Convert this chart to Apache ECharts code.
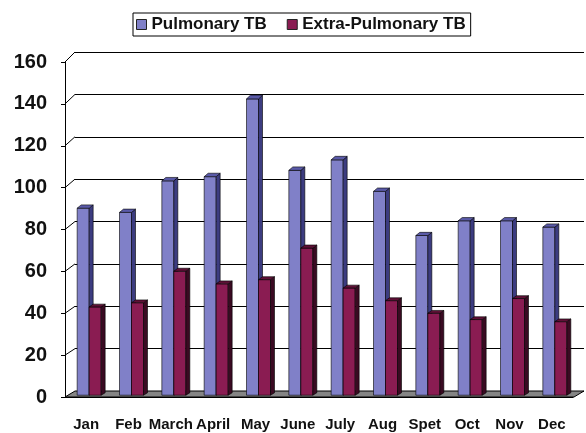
<!DOCTYPE html>
<html>
<head>
<meta charset="utf-8">
<script src="https://cdn.jsdelivr.net/npm/echarts@6/dist/echarts.min.js"></script>
<style>
  html, body { margin: 0; padding: 0; background: #fff; }
</style>
</head>
<body>
<div id="tbChart" style="width: 586px;height: 433px"></div>
<script>
  // chart data
  var months = ['Jan', 'Feb', 'March', 'April', 'May', 'June', 'July', 'Aug', 'Spet', 'Oct', 'Nov', 'Dec'];
  var pulmonary = [89, 87, 102, 104, 141, 107, 112, 97, 76, 83, 83, 80];
  var extraPulmonary = [42, 44, 59, 53, 55, 70, 51, 45, 39, 36, 46, 35];
  var yTicks = [0, 20, 40, 60, 80, 100, 120, 140, 160];

  var Y_MAX = 160;
  // depth offsets between front axis plane and back wall (pixels)
  var DX = 10, DY0 = 6, DY1 = 10;
  var BAR_W = 12;
  var FONT = 'Liberation Sans, Arial, sans-serif';

  function depthDy(v) {
    return DY0 + (DY1 - DY0) * v / Y_MAX;
  }

  // 3d-looking column drawn on the front grid, between depth 0.3 and 0.7
  function bar3d(shift, front, side, top) {
    return function (params, api) {
      let i = api.value(0), v = api.value(1);
      let base = api.coord([i, 0]);
      let peak = api.coord([i, v]);
      let x0 = base[0] + shift, x1 = x0 + BAR_W;
      let dt = depthDy(v), db = DY0;
      let p = function (x, y, t, dy) { return [x + DX * t, y - dy * t]; };
      let a = 0.3, b = 0.7;
      let line = {stroke: '#000', lineWidth: 0.6};
      return {
        type: 'group',
        children: [
          {type: 'polygon', shape: {points: [p(x0, peak[1], a, dt), p(x1, peak[1], a, dt), p(x1, base[1], a, db), p(x0, base[1], a, db)]},
            style: Object.assign({fill: front}, line)},
          {type: 'polygon', shape: {points: [p(x1, peak[1], a, dt), p(x1, peak[1], b, dt), p(x1, base[1], b, db), p(x1, base[1], a, db)]},
            style: Object.assign({fill: side}, line)},
          {type: 'polygon', shape: {points: [p(x0, peak[1], a, dt), p(x1, peak[1], a, dt), p(x1, peak[1], b, dt), p(x0, peak[1], b, dt)]},
            style: Object.assign({fill: top}, line)}
        ]
      };
    };
  }

  let chart = echarts.init(document.getElementById('tbChart'));

  let option = {
    animation: false,
    legend: {
      data: ['Pulmonary TB', 'Extra-Pulmonary TB'],
      left: 133,
      top: 13,
      borderColor: '#000',
      borderWidth: 1,
      borderRadius: 0,
      padding: [3, 5, 3, 3],
      itemGap: 20,
      itemWidth: 10,
      itemHeight: 10,
      icon: 'rect',
      itemStyle: {borderColor: '#222', borderWidth: 1},
      textStyle: {fontFamily: FONT, fontWeight: 'bold', fontSize: 17, color: '#111'}
    },
    grid: [
      // back wall
      {left: 75, right: 2, top: 52, bottom: 42},
      // front axis plane
      {left: 65, right: 13, top: 62, bottom: 36}
    ],
    xAxis: [
      {gridIndex: 0, type: 'category', data: months, show: false},
      {
        gridIndex: 1, type: 'category', data: months,
        axisLine: {lineStyle: {color: '#000', width: 1}},
        axisTick: {length: 5, lineStyle: {color: '#000'}},
        axisLabel: {interval: 0, margin: 20, fontFamily: FONT, fontWeight: 'bold', fontSize: 15, color: '#111'}
      }
    ],
    yAxis: [
      {
        gridIndex: 0, type: 'value', min: 0, max: Y_MAX, interval: 20,
        axisLine: {show: false}, axisTick: {show: false}, axisLabel: {show: false},
        splitLine: {lineStyle: {color: '#000', width: 1}}
      },
      {
        gridIndex: 1, type: 'value', min: 0, max: Y_MAX, interval: 20,
        axisLine: {show: true, lineStyle: {color: '#000', width: 1}},
        axisTick: {show: true, length: 4, lineStyle: {color: '#000'}},
        axisLabel: {margin: 18, fontFamily: FONT, fontWeight: 'bold', fontSize: 20, color: '#111'},
        splitLine: {show: false}
      }
    ],
    series: [
      {
        // floor
        type: 'custom', xAxisIndex: 0, yAxisIndex: 0, z: 1, silent: true,
        data: [[0, 0]],
        renderItem: function (params, api) {
          let p = api.coord([0, 0]);
          let w = api.size([1, 0])[0];
          let left = p[0] - w / 2, right = left + w * months.length;
          return {
            type: 'polygon',
            shape: {points: [[left, p[1]], [right, p[1]], [right - DX, p[1] + DY0], [left - DX, p[1] + DY0]]},
            style: {fill: '#858585', stroke: '#000', lineWidth: 1}
          };
        }
      },
      {
        // connectors from front ticks to back wall
        type: 'custom', xAxisIndex: 0, yAxisIndex: 0, z: 1, silent: true,
        data: yTicks.slice(1).map(function (v) { return [0, v]; }),
        renderItem: function (params, api) {
          let v = api.value(1);
          let p = api.coord([0, v]);
          let left = p[0] - api.size([1, 0])[0] / 2;
          return {
            type: 'line',
            shape: {x1: left, y1: p[1], x2: left - DX, y2: p[1] + depthDy(v)},
            style: {stroke: '#000', lineWidth: 1}
          };
        }
      },
      {
        name: 'Pulmonary TB', type: 'custom', xAxisIndex: 1, yAxisIndex: 1, z: 3,
        itemStyle: {color: '#8080c8'},
        data: pulmonary.map(function (v, i) { return [i, v]; }),
        renderItem: bar3d(-BAR_W, '#8080c8', '#3c3c80', '#5a5aa8')
      },
      {
        name: 'Extra-Pulmonary TB', type: 'custom', xAxisIndex: 1, yAxisIndex: 1, z: 3,
        itemStyle: {color: '#8a1c52'},
        data: extraPulmonary.map(function (v, i) { return [i, v]; }),
        renderItem: bar3d(0, '#8a1c52', '#3a0a22', '#5e1036')
      }
    ]
  };

  chart.setOption(option);
</script>
</body>
</html>
